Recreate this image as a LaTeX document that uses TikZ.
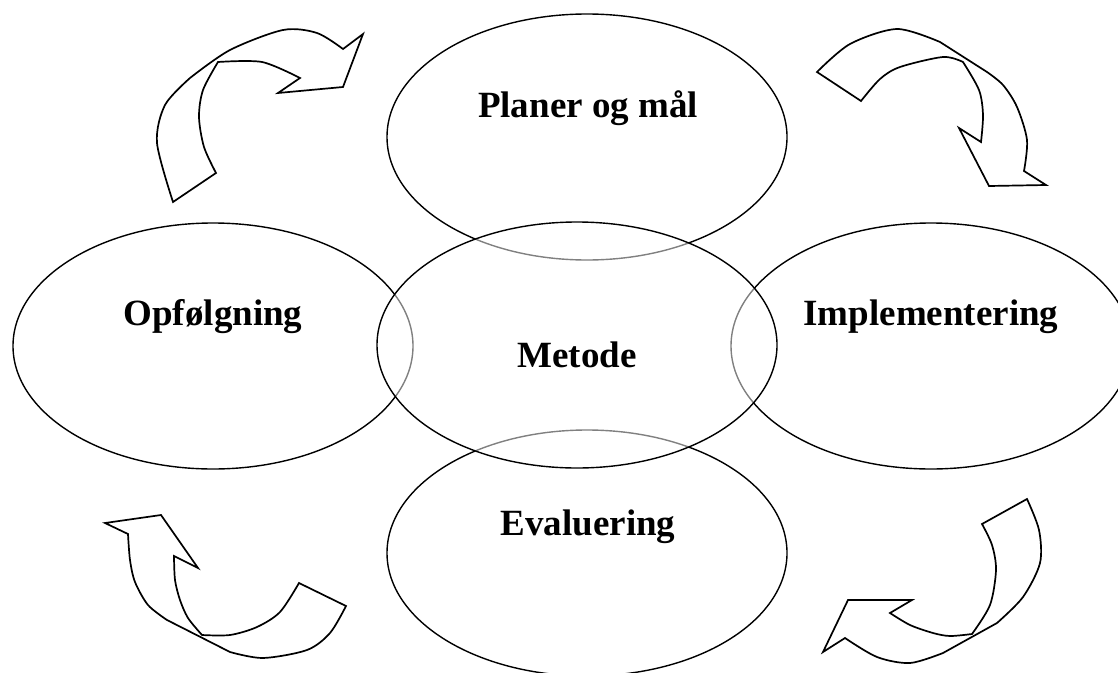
\documentclass[tikz,border=0pt]{standalone}
\usepackage{fontspec}
\setmainfont{Liberation Serif}
\usepackage{tikz}
\usetikzlibrary{shapes.geometric, positioning, calc}
\definecolor{mydark}{RGB}{0,0,0}
\tikzset{
  phase/.style={ellipse, draw=mydark, line width=1.4pt, inner sep=0pt,
    minimum width=400pt, minimum height=246pt},
  hub/.style={phase, fill=white, fill opacity=0.5, draw opacity=1},
  phasetext/.style={font=\fontsize{37}{44}\selectfont\bfseries, anchor=base,
    inner sep=0pt},
  cyclearrow/.style={draw=mydark, fill=white, line width=1.7pt, line join=miter}
}
\begin{document}
\begin{tikzpicture}[x=1pt,y=-1pt]
  \useasboundingbox (0,0) rectangle (1118,672);
  % outer phases
  \node[phase] (plan) at (587,137) {};
  \node[phase] (opf) at (213,346) {};
  \node[phase] (impl) at (931,346) {};
  \node[phase] (eval) at (587,553) {};
  % centre, half transparent over the others
  \node[hub] (metode) at (577,345) {};
  % texts
  \node[phasetext] (plantxt) at ($(plan.center)+(1,-20)$) {Planer og mål};
  \node[phasetext] (opftxt) at ($(opf.center)+(0,-21)$) {Opfølgning};
  \node[phasetext] (impltxt) at ($(impl.center)+(0,-21)$) {Implementering};
  \node[phasetext] (evaltxt) at ($(eval.center)+(1,-18)$) {Evaluering};
  \node[phasetext] (metodetxt) at ($(metode.center)+(0,22)$) {Metode};
  % curved arrows
  \draw[cyclearrow] plot[smooth] coordinates {(173,202) (157,143) (165,105) (190,78)}
    -- plot[smooth] coordinates {(190,78) (230,50) (283,30) (317,33) (343,49)}
    -- (363,34) -- (343,87) -- (278,93)
    -- plot[smooth] coordinates {(300,78) (262,62) (218,62)}
    -- plot[smooth] coordinates {(218,62) (203,90) (199,117) (204,147) (216,173)} -- cycle;
  \draw[cyclearrow] plot[smooth] coordinates {(817,72) (850,44) (897,29) (940,42)}
    -- plot[smooth] coordinates {(987,72) (1003,85) (1017,107) (1027,140) (1024,171)}
    -- (1046,185) -- (989,186) -- (959,128)
    -- plot[smooth] coordinates {(981,142) (983,115) (979,90) (963,62)}
    -- plot[smooth] coordinates {(963,62) (943,57) (900,67) (880,79) (861,101)} -- cycle;
  \draw[cyclearrow] plot[smooth] coordinates {(1027,499) (1039,530) (1040,563) (1023,597) (997,623)}
    -- plot[smooth] coordinates {(943,653) (910,663) (877,657) (845,638)}
    -- (823,652) -- (848,600) -- (912,600)
    -- plot[smooth] coordinates {(890,613) (910,625) (933,633) (950,636) (972,634)}
    -- plot[smooth] coordinates {(972,634) (990,605) (996,570) (992,545) (982,524)} -- cycle;
  \draw[cyclearrow] plot[smooth] coordinates {(346,606) (330,633) (307,650) (263,658) (230,652)}
    -- plot[smooth] coordinates {(167,620) (148,605) (135,582) (130,560) (128,534)}
    -- (105,523) -- (161,515) -- (198,568)
    -- plot[smooth] coordinates {(174,556) (175,580) (180,600) (188,618) (202,635)}
    -- plot[smooth] coordinates {(202,635) (230,635) (257,627) (280,612) (299,583)} -- cycle;
\end{tikzpicture}
\end{document}
